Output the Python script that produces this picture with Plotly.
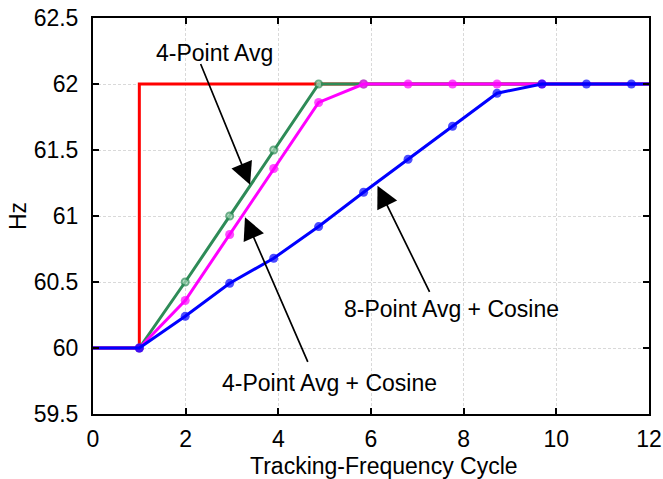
import plotly.graph_objects as go

# ---- data ----
red_x = [0, 1, 1, 12]
red_y = [60, 60, 62, 62]

green_x = [0, 1, 1.99, 2.95, 3.90, 4.87, 5.84, 12]
green_y = [60, 60, 60.50, 61.00, 61.50, 62.00, 62.00, 62.00]

magenta_x = [0, 1, 1.99, 2.95, 3.90, 4.87, 5.84, 6.80, 7.76, 8.72, 9.69, 12]
magenta_y = [60, 60, 60.36, 60.86, 61.36, 61.86, 62.00, 62.00, 62.00, 62.00, 62.00, 62.00]

blue_x = [0, 1, 1.99, 2.95, 3.90, 4.87, 5.84, 6.80, 7.76, 8.72, 9.69, 10.65, 11.62, 12]
blue_y = [60, 60, 60.24, 60.49, 60.68, 60.92, 61.18, 61.43, 61.68, 61.93, 62.00, 62.00, 62.00, 62.00]

x_ticks = [0, 2, 4, 6, 8, 10, 12]
y_ticks = [59.5, 60, 60.5, 61, 61.5, 62, 62.5]

# annotation labels: (text, text_x, text_y, tail_x, tail_y, tip_x, tip_y)
labels = [
    ("4-Point Avg", 2.63, 62.237, 2.31, 62.163, 3.39, 61.237),
    ("4-Point Avg + Cosine", 5.107, 59.733, 4.65, 59.884, 3.28, 60.99),
    ("8-Point Avg + Cosine", 7.745, 60.292, 7.28, 60.414, 6.14, 61.23),
]

FONT = "Liberation Sans, Arial, Helvetica, sans-serif"
FS = 23


def end_hidden(n, s):
    return [0] + [s] * (n - 2) + [0]


fig = go.Figure()
fig.add_trace(go.Scatter(x=red_x, y=red_y, mode="lines",
                         line=dict(color="#ff0000", width=3), hoverinfo="skip"))
fig.add_trace(go.Scatter(x=green_x, y=green_y, mode="lines+markers",
                         line=dict(color="#2e8b57", width=3),
                         marker=dict(symbol="circle", size=end_hidden(len(green_x), 7),
                                     color="#a8d8b8", line=dict(color="#2e8b57", width=2)),
                         hoverinfo="skip"))
fig.add_trace(go.Scatter(x=magenta_x, y=magenta_y, mode="lines+markers",
                         line=dict(color="#ff00ff", width=3),
                         marker=dict(symbol="circle", size=end_hidden(len(magenta_x), 9),
                                     color="#ff00ff", line=dict(width=0)),
                         hoverinfo="skip"))
fig.add_trace(go.Scatter(x=blue_x, y=blue_y, mode="lines+markers",
                         line=dict(color="#0000ff", width=3),
                         marker=dict(symbol="circle", size=end_hidden(len(blue_x), 9),
                                     color="#0000ff", line=dict(width=0)),
                         hoverinfo="skip"))

annotations = []
for text, tx, ty, ax, ay, hx, hy in labels:
    annotations.append(dict(x=hx, y=hy, ax=ax, ay=ay, xref="x", yref="y",
                            axref="x", ayref="y", text="", showarrow=True,
                            arrowhead=2, arrowsize=2.6, arrowwidth=1.7,
                            arrowcolor="black", standoff=0, startstandoff=0))
    annotations.append(dict(x=tx, y=ty, xref="x", yref="y", text=text,
                            showarrow=False, xanchor="center", yanchor="middle",
                            font=dict(family=FONT, size=FS, color="black")))

annotations.append(dict(x=0.523, y=0, xref="paper", yref="paper",
                        text="Tracking-Frequency Cycle", showarrow=False,
                        xanchor="center", yanchor="middle", yshift=-52,
                        font=dict(family=FONT, size=FS, color="black")))
annotations.append(dict(x=0, y=0.5, xref="paper", yref="paper", text="Hz",
                        showarrow=False, textangle=-90, xanchor="center",
                        yanchor="middle", xshift=-75,
                        font=dict(family=FONT, size=FS, color="black")))

axis_common = dict(showline=True, linecolor="black", linewidth=2, mirror="ticks",
                   ticks="inside", ticklen=6, tickwidth=1.5, tickcolor="black",
                   showgrid=True, gridcolor="#d9d9d9", gridwidth=1,
                   griddash="3px,2px", zeroline=False, automargin=False,
                   tickfont=dict(family=FONT, size=FS, color="black"))

fig.update_layout(
    width=663, height=479,
    margin=dict(l=93, r=14, t=18, b=65),
    paper_bgcolor="white", plot_bgcolor="white",
    showlegend=False,
    xaxis=dict(range=[0, 12], tickvals=x_ticks, ticklabelstandoff=3, **axis_common),
    yaxis=dict(range=[59.5, 62.5], tickvals=y_ticks, ticklabelstandoff=8, **axis_common),
    annotations=annotations,
)

fig.write_html("out.html", config={"displayModeBar": False})
